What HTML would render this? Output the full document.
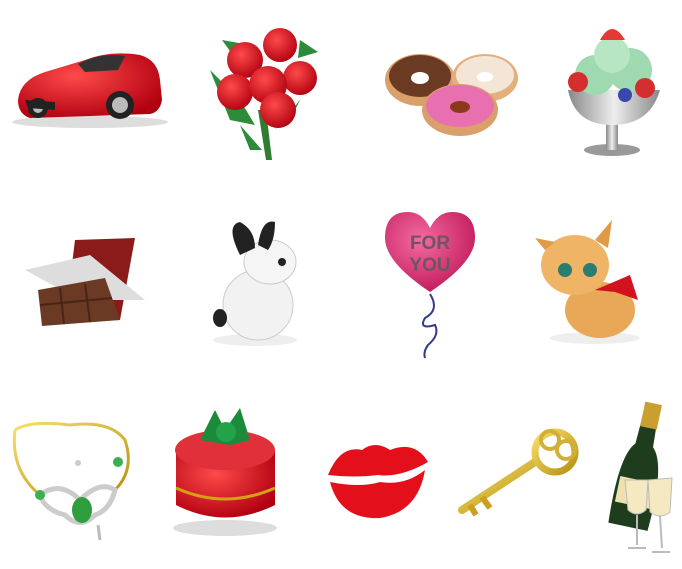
<!DOCTYPE html>
<html><head><meta charset="utf-8"><style>
html,body{margin:0;padding:0;background:#fff;width:682px;height:569px;overflow:hidden}
svg{display:block}
</style></head><body>
<svg width="682" height="569" viewBox="0 0 682 569">
<defs>
<radialGradient id="red" cx="40%" cy="35%" r="70%"><stop offset="0" stop-color="#ff4a4a"/><stop offset="1" stop-color="#b00010"/></radialGradient>
<radialGradient id="pink" cx="40%" cy="35%" r="70%"><stop offset="0" stop-color="#f46ba0"/><stop offset="1" stop-color="#c0185a"/></radialGradient>
<linearGradient id="gold" x1="0" y1="0" x2="1" y2="1"><stop offset="0" stop-color="#f7df6a"/><stop offset="1" stop-color="#b8900f"/></linearGradient>
<linearGradient id="silver" x1="0" y1="0" x2="1" y2="0"><stop offset="0" stop-color="#888"/><stop offset=".5" stop-color="#eee"/><stop offset="1" stop-color="#888"/></linearGradient>
</defs>

<g>
<ellipse cx="90" cy="122" rx="78" ry="6" fill="#ddd"/>
<path d="M18 100 Q20 80 45 72 L85 60 Q110 50 140 55 Q158 60 160 80 L162 100 Q160 112 150 114 L30 118 Q18 114 18 100Z" fill="url(#red)"/>
<path d="M78 64 Q100 52 125 56 L118 70 L85 72Z" fill="#333"/>
<circle cx="120" cy="105" r="14" fill="#222"/><circle cx="120" cy="105" r="8" fill="#bbb"/>
<circle cx="38" cy="108" r="10" fill="#222"/><circle cx="38" cy="108" r="5" fill="#bbb"/>
<path d="M25 100 L55 102 L55 110 L28 108Z" fill="#222"/>
</g>

<g>
<path d="M258 110 L266 160 L272 160 L266 110Z" fill="#2e7d32"/>
<path d="M210 70 L240 100 L255 125 L230 120Z M318 65 L295 110 L275 130 L300 100Z M222 40 L250 45 L238 62Z M300 40 L318 52 L298 58Z M240 125 L262 150 L250 150Z" fill="#2e8b3a"/>
<circle cx="245" cy="60" r="18" fill="url(#red)"/><circle cx="280" cy="45" r="17" fill="url(#red)"/>
<circle cx="300" cy="78" r="17" fill="url(#red)"/><circle cx="235" cy="92" r="18" fill="url(#red)"/>
<circle cx="268" cy="85" r="19" fill="url(#red)"/><circle cx="278" cy="110" r="18" fill="url(#red)"/>
</g>

<g>
<ellipse cx="420" cy="80" rx="35" ry="26" fill="#d9a06b"/><ellipse cx="420" cy="76" rx="31" ry="21" fill="#6b3a22"/><ellipse cx="420" cy="78" rx="9" ry="6" fill="#fff"/>
<ellipse cx="485" cy="78" rx="33" ry="24" fill="#e2b07a"/><ellipse cx="485" cy="75" rx="29" ry="19" fill="#f4e6d6"/><ellipse cx="485" cy="77" rx="8" ry="5" fill="#fff"/>
<ellipse cx="460" cy="110" rx="38" ry="26" fill="#d9a06b"/><ellipse cx="460" cy="106" rx="34" ry="21" fill="#e870b0"/><ellipse cx="460" cy="107" rx="10" ry="6" fill="#8a3a1a"/>
</g>

<g>
<ellipse cx="612" cy="150" rx="28" ry="6" fill="#999"/><rect x="606" y="118" width="12" height="32" fill="url(#silver)"/>
<path d="M568 90 L660 90 Q650 125 612 125 Q575 125 568 90Z" fill="url(#silver)"/>
<circle cx="595" cy="75" r="20" fill="#9fd9b0"/><circle cx="630" cy="70" r="22" fill="#9fd9b0"/><circle cx="612" cy="55" r="18" fill="#b7e6c5"/>
<path d="M600 40 Q612 18 625 40Z" fill="#e53935"/><circle cx="645" cy="88" r="10" fill="#d32f2f"/><circle cx="578" cy="82" r="10" fill="#d32f2f"/><circle cx="625" cy="95" r="7" fill="#3949ab"/>
</g>

<g>
<path d="M75 240 L135 238 L120 320 L65 322Z" fill="#8b1a1a"/>
<path d="M25 270 L90 255 L145 300 L80 300Z" fill="#ddd"/>
<path d="M38 290 L105 278 L120 320 L42 326Z" fill="#6b3a24"/>
<path d="M60 288 L64 324 M85 284 L90 322 M40 305 L112 298" stroke="#4a2414" stroke-width="2"/>
</g>

<g>
<ellipse cx="255" cy="340" rx="42" ry="6" fill="#eee"/>
<ellipse cx="258" cy="305" rx="35" ry="35" fill="#f2f2f2" stroke="#ccc"/>
<ellipse cx="270" cy="262" rx="26" ry="22" fill="#f5f5f5" stroke="#ccc"/>
<path d="M240 255 Q225 225 240 222 Q255 230 255 248Z" fill="#222"/><path d="M258 245 Q262 218 275 222 Q275 240 268 250Z" fill="#222"/>
<circle cx="282" cy="262" r="4" fill="#222"/><ellipse cx="220" cy="318" rx="7" ry="9" fill="#222"/>
</g>

<g>
<path d="M430 292 Q385 262 385 238 Q385 212 408 212 Q422 212 430 228 Q438 212 452 212 Q475 212 475 238 Q475 262 430 292Z" fill="url(#pink)"/>
<text x="430" y="249" text-anchor="middle" font-family="Liberation Sans,sans-serif" font-weight="bold" font-size="19" fill="#6e5560">FOR</text>
<text x="430" y="271" text-anchor="middle" font-family="Liberation Sans,sans-serif" font-weight="bold" font-size="19" fill="#6e5560">YOU</text>
<path d="M430 294 Q440 310 425 318 Q418 330 435 325 Q440 335 428 345 Q423 352 425 358" stroke="#333a8a" stroke-width="2" fill="none"/>
</g>

<g>
<ellipse cx="595" cy="338" rx="45" ry="6" fill="#eee"/>
<ellipse cx="600" cy="310" rx="35" ry="28" fill="#e9a858"/>
<ellipse cx="575" cy="265" rx="34" ry="30" fill="#f0b466"/>
<path d="M545 250 L535 238 L555 242Z M595 240 L612 220 L608 248Z" fill="#e09a48"/>
<circle cx="565" cy="270" r="7" fill="#2a7d70"/><circle cx="590" cy="270" r="7" fill="#2a7d70"/>
<path d="M595 290 L630 275 L638 300 L615 292Z" fill="#d3121f"/>
</g>

<g>
<path d="M15 430 Q30 420 70 425 Q110 420 125 440 Q135 470 115 490 M15 430 Q10 470 40 495" stroke="url(#gold)" stroke-width="3" fill="none"/>
<path d="M40 495 Q60 480 80 500 Q100 480 115 490 Q110 510 95 515 Q80 530 65 515 Q45 510 40 495Z" fill="none" stroke="#ccc" stroke-width="5"/>
<ellipse cx="82" cy="510" rx="10" ry="13" fill="#2e9e3e"/><circle cx="40" cy="495" r="5" fill="#3cb050"/><circle cx="118" cy="462" r="5" fill="#3cb050"/>
<path d="M98 525 L100 540" stroke="#bbb" stroke-width="3"/><circle cx="78" cy="463" r="3" fill="#ccc"/>
</g>

<g>
<ellipse cx="225" cy="528" rx="52" ry="8" fill="#ddd"/>
<path d="M176 450 L176 505 Q225 530 275 505 L275 450Z" fill="url(#red)"/>
<ellipse cx="225" cy="450" rx="50" ry="20" fill="#e0303a"/>
<path d="M176 488 Q225 510 275 488" stroke="#d4a017" stroke-width="3" fill="none"/>
<path d="M200 440 L215 410 L225 430 L240 408 L250 440 L230 445Z" fill="#1b8a3a"/><circle cx="226" cy="432" r="10" fill="#23a24a"/>
</g>

<g>
<path d="M328 475 Q340 445 362 450 Q375 440 390 450 Q415 440 428 462 Q400 478 378 475 Q355 478 328 475Z" fill="#e3101c"/>
<path d="M330 482 Q360 488 380 482 Q405 486 425 470 Q418 512 380 518 Q340 520 330 482Z" fill="#e3101c"/>
</g>

<g>
<path d="M462 510 L535 462" stroke="url(#gold)" stroke-width="8" stroke-linecap="round"/>
<path d="M470 505 L476 515 M482 497 L490 508" stroke="#c9a020" stroke-width="6"/>
<circle cx="555" cy="452" r="20" fill="none" stroke="url(#gold)" stroke-width="7"/>
<circle cx="550" cy="440" r="9" fill="none" stroke="#d4af37" stroke-width="4"/><circle cx="566" cy="450" r="9" fill="none" stroke="#d4af37" stroke-width="4"/>
</g>

<g>
<g transform="rotate(12 640 470)">
<path d="M632 405 L646 405 L648 445 Q664 460 660 528 L620 528 Q616 460 630 445Z" fill="#1d3d1d"/>
<rect x="631" y="402" width="17" height="25" fill="#c9a030"/>
<rect x="622" y="480" width="36" height="26" fill="#efe0b0"/>
</g>
<path d="M625 480 L648 480 L646 510 Q637 518 628 510Z" fill="#f4e9c0" stroke="#bbb"/>
<path d="M637 515 L637 545 M628 548 L646 548" stroke="#bbb" stroke-width="2"/>
<path d="M648 480 L672 478 L670 512 Q660 520 650 512Z" fill="#f4e9c0" stroke="#bbb"/>
<path d="M660 516 L662 548 M652 552 L670 552" stroke="#bbb" stroke-width="2"/>
</g>
</svg>
</body></html>
